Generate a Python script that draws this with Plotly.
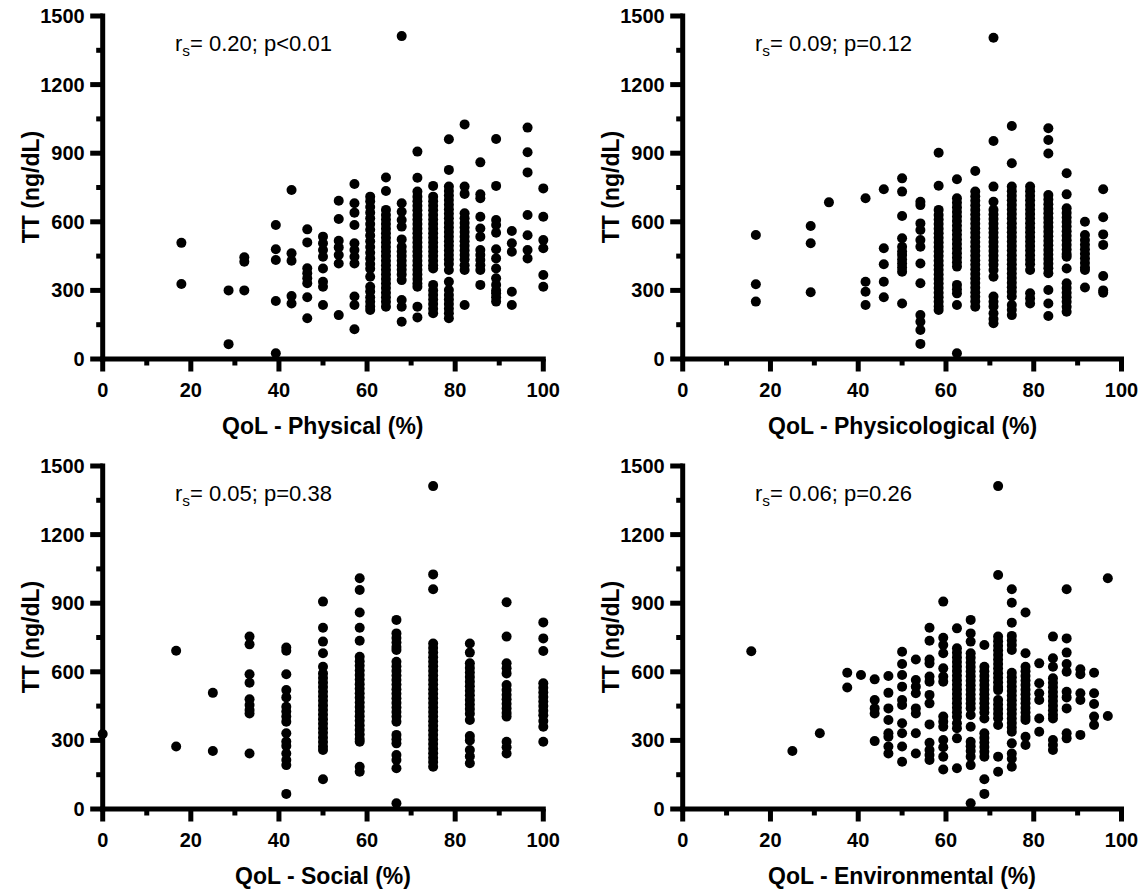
import plotly.graph_objects as go

# ---------------- DATA ----------------
# QoL domain score levels (x) and TT values (ng/dL) observed at each level
phys_levels = [17.86, 28.57, 32.14, 39.29, 42.86, 46.43, 50.0, 53.57, 57.14, 60.71,
               64.29, 67.86, 71.43, 75.0, 78.57, 82.14, 85.71, 89.29, 92.86, 96.43, 100.0]
phys_tt = [
    [508, 328],
    [300, 65],
    [445, 425, 300],
    [586, 480, 433, 254, 25],
    [739, 462, 430, 275, 243],
    [567, 510, 397, 375, 353, 331, 270, 178],
    [535, 506, 477, 447, 396, 338, 316, 236],
    [692, 612, 517, 488, 455, 418, 192],
    [765, 681, 640, 586, 506, 477, 447, 418, 273, 236, 130],
    [710, 690, 665, 640, 615, 590, 565, 540, 515, 490, 465, 440, 415, 395, 360, 316, 295, 270, 250, 230, 214],
    [794, 735, 652, 630, 610, 590, 570, 550, 530, 510, 490, 470, 450, 430, 410, 390, 370, 350, 330, 310, 290, 270, 250, 229],
    [1412, 681, 644, 608, 579, 523, 491, 470, 450, 430, 410, 390, 370, 345, 258, 229, 163],
    [907, 793, 732, 710, 690, 670, 650, 630, 610, 590, 570, 550, 530, 510, 490, 470, 450, 430, 410, 390, 370, 350, 330, 316, 229, 182],
    [757, 710, 690, 670, 650, 630, 610, 590, 570, 550, 530, 510, 490, 470, 450, 430, 410, 396, 324, 300, 280, 260, 240, 220, 200],
    [961, 827, 754, 735, 715, 695, 675, 655, 635, 615, 595, 575, 555, 535, 515, 495, 475, 455, 435, 415, 389, 338, 302, 280, 260, 240, 220, 200, 178],
    [1026, 754, 722, 637, 615, 595, 575, 555, 535, 515, 495, 475, 455, 435, 410, 389, 236],
    [860, 720, 703, 622, 571, 535, 477, 455, 433, 410, 389, 324],
    [962, 757, 608, 586, 552, 480, 440, 396, 353, 324, 300, 287, 270, 251],
    [560, 506, 469, 294, 236],
    [1012, 904, 816, 630, 541, 477, 440],
    [746, 622, 520, 484, 367, 316],
]

psych_levels = [16.67, 29.17, 33.33, 41.67, 45.83, 50.0, 54.17, 58.33, 62.5, 66.67,
                70.83, 75.0, 79.17, 83.33, 87.5, 91.67, 95.83]
psych_tt = [
    [542, 327, 251],
    [582, 506, 292],
    [685],
    [703, 338, 294, 236],
    [742, 484, 414, 338, 270],
    [790, 732, 625, 528, 491, 470, 455, 435, 418, 400, 382, 243],
    [688, 673, 593, 564, 520, 491, 418, 331, 192, 163, 127, 66],
    [902, 758, 652, 630, 610, 590, 570, 550, 530, 510, 490, 470, 450, 430, 410, 390, 370, 350, 330, 310, 290, 270, 250, 230, 214],
    [786, 703, 683, 663, 643, 623, 603, 583, 563, 543, 523, 503, 483, 463, 443, 423, 404, 324, 305, 287, 236, 25],
    [822, 732, 712, 692, 672, 652, 632, 612, 592, 572, 552, 532, 512, 492, 472, 452, 432, 412, 392, 372, 352, 332, 312, 292, 272, 252, 229],
    [1405, 953, 754, 688, 652, 632, 612, 592, 572, 552, 532, 512, 492, 472, 452, 432, 412, 389, 360, 273, 250, 230, 200, 175, 156],
    [1019, 856, 754, 734, 714, 694, 674, 654, 634, 614, 594, 574, 554, 534, 514, 494, 474, 454, 434, 414, 394, 374, 354, 334, 314, 294, 273, 236, 215, 192],
    [754, 734, 714, 694, 674, 654, 634, 614, 594, 574, 554, 534, 514, 494, 474, 454, 434, 414, 389, 287, 265, 243],
    [1009, 958, 899, 717, 697, 677, 657, 637, 617, 597, 577, 557, 537, 517, 497, 477, 457, 437, 417, 397, 375, 302, 243, 188],
    [812, 720, 659, 639, 619, 599, 579, 559, 539, 519, 499, 479, 459, 447, 396, 331, 310, 290, 270, 250, 228, 207],
    [600, 542, 520, 500, 480, 460, 440, 420, 400, 389, 313],
    [742, 620, 545, 499, 363, 300, 290],
]

social_levels = [0.0, 16.67, 25.0, 33.33, 41.67, 50.0, 58.33, 66.67, 75.0, 83.33, 91.67, 100.0]
social_tt = [
    [328],
    [692, 273],
    [508, 254],
    [754, 720, 589, 552, 480, 455, 433, 418, 243],
    [706, 692, 589, 520, 488, 447, 426, 404, 382, 331, 295, 276, 243, 214, 192, 66],
    [907, 793, 732, 681, 622, 593, 573, 553, 533, 513, 493, 473, 453, 433, 413, 393, 373, 353, 333, 313, 293, 273, 258, 130],
    [1009, 958, 859, 793, 736, 666, 646, 626, 606, 586, 566, 546, 526, 506, 486, 466, 446, 426, 406, 386, 366, 346, 326, 306, 294, 185, 163],
    [827, 768, 748, 728, 708, 695, 644, 624, 604, 584, 564, 544, 524, 504, 484, 464, 444, 424, 404, 382, 324, 305, 287, 236, 214, 178, 25],
    [1412, 1026, 961, 724, 704, 684, 664, 644, 624, 604, 584, 564, 544, 524, 504, 484, 464, 444, 424, 404, 384, 364, 344, 324, 304, 284, 264, 244, 224, 205, 185],
    [724, 684, 637, 617, 597, 577, 557, 537, 517, 497, 477, 457, 437, 417, 389, 319, 300, 258, 230, 200],
    [904, 754, 637, 615, 593, 542, 520, 500, 480, 460, 440, 420, 404, 294, 270, 243],
    [816, 746, 691, 550, 530, 510, 490, 470, 450, 430, 410, 385, 360, 294],
]

env_levels = [15.63, 25.0, 31.25, 37.5, 40.63, 43.75, 46.88, 50.0, 53.13, 56.25, 59.38,
              62.5, 65.63, 68.75, 71.88, 75.0, 78.13, 81.25, 84.38, 87.5, 90.63, 93.75, 96.88]
env_tt = [
    [690],
    [254],
    [331],
    [596, 531],
    [586],
    [567, 477, 440, 418, 297],
    [582, 508, 440, 389, 331, 316, 273, 243],
    [688, 634, 586, 535, 477, 455, 375, 331, 273, 207],
    [654, 564, 535, 506, 440, 418, 331, 243],
    [793, 736, 654, 637, 579, 557, 499, 462, 370, 290, 258, 236, 214],
    [907, 749, 717, 681, 615, 579, 557, 404, 382, 360, 302, 270, 229, 173],
    [790, 703, 683, 663, 643, 623, 603, 583, 563, 543, 523, 503, 483, 463, 443, 423, 403, 375, 353, 309, 178],
    [827, 768, 732, 681, 661, 641, 621, 601, 581, 561, 541, 521, 501, 481, 461, 441, 411, 360, 294, 274, 254, 229, 192, 25],
    [717, 622, 602, 582, 562, 542, 522, 502, 482, 462, 442, 422, 396, 331, 311, 291, 271, 250, 229, 130, 66],
    [1412, 1023, 754, 734, 714, 694, 674, 654, 634, 614, 594, 574, 554, 534, 520, 477, 457, 437, 417, 397, 367, 229, 163],
    [961, 902, 815, 757, 737, 717, 695, 596, 576, 556, 536, 516, 496, 476, 456, 436, 416, 396, 376, 356, 338, 287, 243, 220, 185],
    [859, 681, 622, 602, 582, 562, 542, 522, 502, 482, 462, 442, 422, 402, 389, 316, 280],
    [637, 550, 506, 477, 396, 338],
    [754, 659, 622, 572, 552, 532, 512, 492, 472, 452, 432, 412, 396, 302, 280, 258],
    [961, 746, 684, 634, 600, 513, 488, 440, 331, 309],
    [611, 589, 506, 477, 324],
    [596, 506, 459, 404, 367],
    [1009, 407],
]

x_titles = ["QoL - Physical (%)", "QoL - Physicological (%)", "QoL - Social (%)", "QoL - Environmental (%)"]
y_title = "TT (ng/dL)"
stats_text = ["r<sub>s</sub>= 0.20; p&lt;0.01", "r<sub>s</sub>= 0.09; p=0.12",
              "r<sub>s</sub>= 0.05; p=0.38", "r<sub>s</sub>= 0.06; p=0.26"]
x_range = [0, 100]
y_range = [0, 1500]
x_ticks = [0, 20, 40, 60, 80, 100]
x_minor_ticks = [10, 30, 50, 70, 90]
y_ticks = [0, 300, 600, 900, 1200, 1500]
y_minor_ticks = [150, 450, 750, 1050, 1350]

# ---------------- FIGURE ----------------
W, H = 1147, 891
FONT = "Liberation Sans, Arial, Helvetica, sans-serif"
LW = 5                # axis line / tick thickness (px)
MAJ, MIN = 12.5, 6.5  # tick lengths measured from the axis line centre (px)

panels = [(phys_levels, phys_tt), (psych_levels, psych_tt),
          (social_levels, social_tt), (env_levels, env_tt)]

# pixel boxes of plot areas: (left, right, top, bottom)
boxes = [(102.7, 543.3, 16, 359), (682.7, 1121.5, 16, 359),
         (102.7, 543.3, 466, 809), (682.7, 1121.5, 466, 809)]

fig = go.Figure()
layout = dict(width=W, height=H, margin=dict(l=0, r=0, t=0, b=0, pad=0, autoexpand=False),
              paper_bgcolor="white", plot_bgcolor="white", showlegend=False,
              font=dict(family=FONT, color="black"))
annotations = []
shapes = []


def bar(x0, x1, y0, y1):
    """solid black filled rectangle given in page pixels (for axis lines / ticks)"""
    return dict(type="rect", xref="paper", yref="paper", layer="above",
                x0=x0 / W, x1=x1 / W, y0=1 - y0 / H, y1=1 - y1 / H,
                fillcolor="black", line=dict(width=0))


for i, ((levels, vals), (l, r, t, b)) in enumerate(zip(panels, boxes)):
    xs, ys = [], []
    for lv, col in zip(levels, vals):
        for v in col:
            xs.append(lv)
            ys.append(v)
    suffix = "" if i == 0 else str(i + 1)
    xr, yr = "x" + suffix, "y" + suffix
    fig.add_trace(go.Scatter(x=xs, y=ys, mode="markers", cliponaxis=False,
                             marker=dict(size=10, color="black", line=dict(width=0)),
                             xaxis=xr, yaxis=yr, hoverinfo="x+y"))
    # plotly ticks kept (transparent) only to position the tick labels
    common = dict(showgrid=False, zeroline=False, showline=False,
                  ticks="outside", ticklen=10, tickwidth=1, tickcolor="rgba(0,0,0,0)",
                  tickfont=dict(family=FONT, size=20, color="black", weight="bold"),
                  ticklabelstandoff=3, automargin=False, fixedrange=True)
    layout["xaxis" + suffix] = dict(common, domain=[l / W, r / W], range=x_range,
                                    tickvals=x_ticks, anchor=yr)
    layout["yaxis" + suffix] = dict(common, domain=[1 - b / H, 1 - t / H], range=y_range,
                                    tickvals=y_ticks, anchor=xr)

    # linear axis scales (value -> pixel) used for the frame and tick marks
    def sx(v, l=l, r=r):
        return l + (v - x_range[0]) / (x_range[1] - x_range[0]) * (r - l)

    def sy(v, t=t, b=b):
        return b - (v - y_range[0]) / (y_range[1] - y_range[0]) * (b - t)

    h = LW / 2
    # axis frame lines
    shapes.append(bar(l - h, r + h, b - h, b + h))
    shapes.append(bar(l - h, l + h, t - h, b + h))
    # tick marks
    for tv_list, ln in ((x_ticks, MAJ), (x_minor_ticks, MIN)):
        for tv in tv_list:
            shapes.append(bar(sx(tv) - h, sx(tv) + h, b, b + ln))
    for tv_list, ln in ((y_ticks, MAJ), (y_minor_ticks, MIN)):
        for tv in tv_list:
            shapes.append(bar(l - ln, l, sy(tv) - h, sy(tv) + h))

    # x-axis title
    annotations.append(dict(text=x_titles[i], xref="paper", yref="paper",
                            x=((l + r) / 2) / W, y=1 - (b + 67) / H,
                            xanchor="center", yanchor="middle", showarrow=False,
                            font=dict(family=FONT, size=23, color="black", weight="bold")))
    # y-axis title
    annotations.append(dict(text=y_title, xref="paper", yref="paper",
                            x=(l - 72) / W, y=1 - ((t + b) / 2) / H, textangle=-90,
                            xanchor="center", yanchor="middle", showarrow=False,
                            font=dict(family=FONT, size=23, color="black", weight="bold")))
    # stats text
    annotations.append(dict(text=stats_text[i], xref="paper", yref="paper",
                            x=(l + 70) / W, y=1 - (t + 29) / H,
                            xanchor="left", yanchor="middle", showarrow=False,
                            font=dict(family=FONT, size=22, color="black")))

layout["annotations"] = annotations
layout["shapes"] = shapes
fig.update_layout(**layout)
fig.write_html("out.html")
